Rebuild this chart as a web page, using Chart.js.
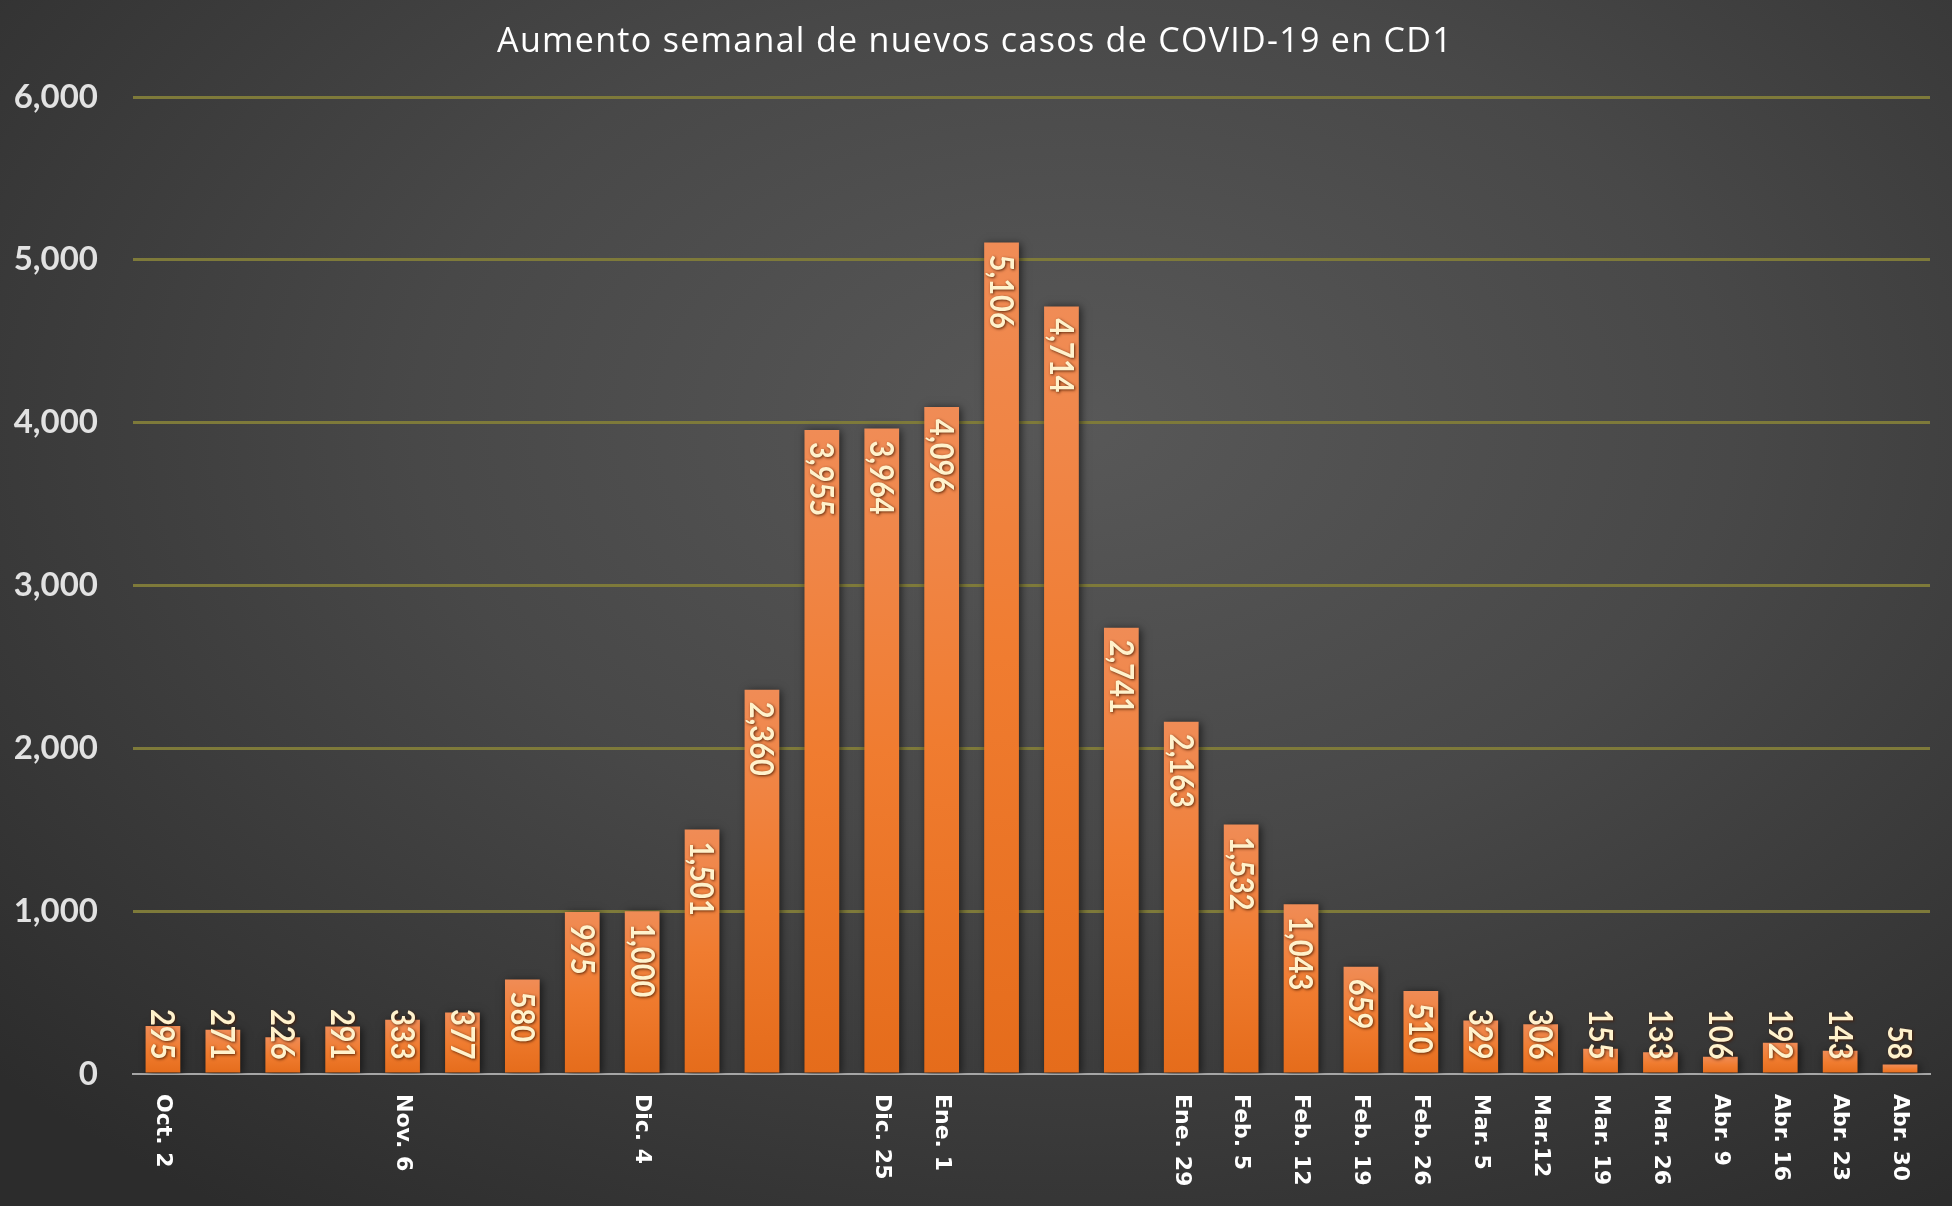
<!DOCTYPE html>
<html>
<head>
<meta charset="utf-8">
<script src="https://cdn.jsdelivr.net/npm/chart.js@4"></script>
<style>
  html, body { margin: 0; padding: 0; }
  body {
    width: 1952px; height: 1206px; overflow: hidden;
    background: radial-gradient(ellipse 75% 80% at 55% 35%, #585858 0%, #484848 45%, #2c2c2c 100%);
  }
  #chart { display: block; }
</style>
</head>
<body>
<canvas id="chart" width="1952" height="1206"></canvas>
<script>
// weekly data
var weeks = ['Oct. 2', '', '', '', 'Nov. 6', '', '', '', 'Dic. 4', '', '', '', 'Dic. 25', 'Ene. 1', '', '', '', 'Ene. 29',
  'Feb. 5', 'Feb. 12', 'Feb. 19', 'Feb. 26', 'Mar. 5', 'Mar.12', 'Mar. 19', 'Mar. 26', 'Abr. 9', 'Abr. 16', 'Abr. 23', 'Abr. 30'];
var newCases = [295, 271, 226, 291, 333, 377, 580, 995, 1000, 1501, 2360, 3955, 3964, 4096, 5106, 4714, 2741, 2163,
  1532, 1043, 659, 510, 329, 306, 155, 133, 106, 192, 143, 58];
var yTicks = [0, 1000, 2000, 3000, 4000, 5000, 6000];
var chartTitle = 'Aumento semanal de nuevos casos de COVID-19 en CD1';

function fmt(v) {
  return v.toLocaleString('en-US');
}

// per bar gradient, light at top
function barColor(ctx) {
  var chart = ctx.chart;
  var y = chart.scales.y;
  if (!y || ctx.type !== 'data') return '#ec7a30';
  var top = y.getPixelForValue(ctx.raw);
  var base = y.getPixelForValue(0);
  if (!isFinite(top) || top === base) return '#ec7a30';
  var g = chart.ctx.createLinearGradient(0, top, 0, base);
  g.addColorStop(0, '#f08c56');
  g.addColorStop(0.5, '#f07c30');
  g.addColorStop(1, '#e56c1b');
  return g;
}

var barShadow = {
  id: 'barShadow',
  beforeDatasetDraw: function(chart) {
    var c = chart.ctx;
    c.save();
    c.shadowColor = 'rgba(0,0,0,0.6)';
    c.shadowBlur = 8;
    c.shadowOffsetX = 2;
    c.shadowOffsetY = 1;
  },
  afterDatasetDraw: function(chart) {
    chart.ctx.restore();
  }
};

// title with a bit of letter spacing
var titleText = {
  id: 'titleText',
  afterDraw: function(chart) {
    var c = chart.ctx;
    c.save();
    c.font = '34px "Open Sans"';
    c.letterSpacing = '1.3px';
    c.fillStyle = '#ffffff';
    c.textAlign = 'center';
    c.textBaseline = 'alphabetic';
    c.fillText(chartTitle, 975, 52);
    c.restore();
  }
};

// rotated value labels inside the bars
var valueLabels = {
  id: 'valueLabels',
  afterDatasetsDraw: function(chart) {
    var c = chart.ctx;
    var meta = chart.getDatasetMeta(0);
    var squeeze = 0.88;
    c.save();
    c.font = 'bold 33px Lato';
    c.fillStyle = '#fff2cc';
    c.textAlign = 'left';
    c.textBaseline = 'middle';
    c.shadowColor = 'rgba(70,25,0,0.85)';
    c.shadowBlur = 3;
    c.shadowOffsetX = 1;
    c.shadowOffsetY = 1;
    meta.data.forEach(function(bar, i) {
      var txt = fmt(newCases[i]);
      var w = c.measureText(txt).width * squeeze;
      var start = Math.min(bar.y + 12, bar.base - 13 - w);
      c.save();
      c.translate(bar.x, start);
      c.rotate(Math.PI / 2);
      c.scale(squeeze, 1);
      c.fillText(txt, 0, 1);
      c.restore();
    });
    c.restore();
  }
};

// category labels read top to bottom
var weekLabels = {
  id: 'weekLabels',
  afterDraw: function(chart) {
    var c = chart.ctx;
    var x = chart.scales.x;
    c.save();
    c.font = 'bold 22px "DejaVu Sans"';
    c.fillStyle = '#ffffff';
    c.textAlign = 'left';
    c.textBaseline = 'middle';
    weeks.forEach(function(lbl, i) {
      if (!lbl) return;
      c.save();
      c.translate(x.getPixelForValue(i), chart.chartArea.bottom + 20);
      c.rotate(Math.PI / 2);
      c.fillText(lbl, 0, 0);
      c.restore();
    });
    c.restore();
  }
};

new Chart(document.getElementById('chart'), {
  type: 'bar',
  data: {
    labels: weeks,
    datasets: [{
      data: newCases,
      backgroundColor: barColor,
      borderWidth: 0,
      categoryPercentage: 1,
      barPercentage: 0.58
    }]
  },
  options: {
    responsive: false,
    animation: false,
    devicePixelRatio: 1,
    layout: { padding: { left: 0, right: 22, top: 97, bottom: 124 } },
    plugins: {
      legend: { display: false },
      tooltip: { enabled: false },
      title: { display: false }
    },
    scales: {
      x: {
        grid: { display: false },
        border: { display: true, color: '#a6a6a6', width: 2 },
        ticks: { display: false }
      },
      y: {
        min: 0,
        max: 6000,
        afterBuildTicks: function(scale) {
          scale.ticks = yTicks.map(function(v) { return { value: v }; });
        },
        afterFit: function(scale) { scale.width = 133; },
        grid: {
          color: function(ctx) { return ctx.tick && ctx.tick.value === 0 ? 'rgba(0,0,0,0)' : '#7e7a3a'; },
          lineWidth: 3,
          drawTicks: false
        },
        border: { display: false },
        ticks: {
          padding: 35,
          color: '#e2e2e2',
          font: { family: 'Lato', size: 33, weight: 'bold' },
          callback: function(v) { return fmt(v); }
        }
      }
    }
  },
  plugins: [barShadow, valueLabels, weekLabels, titleText]
});
</script>
</body>
</html>
